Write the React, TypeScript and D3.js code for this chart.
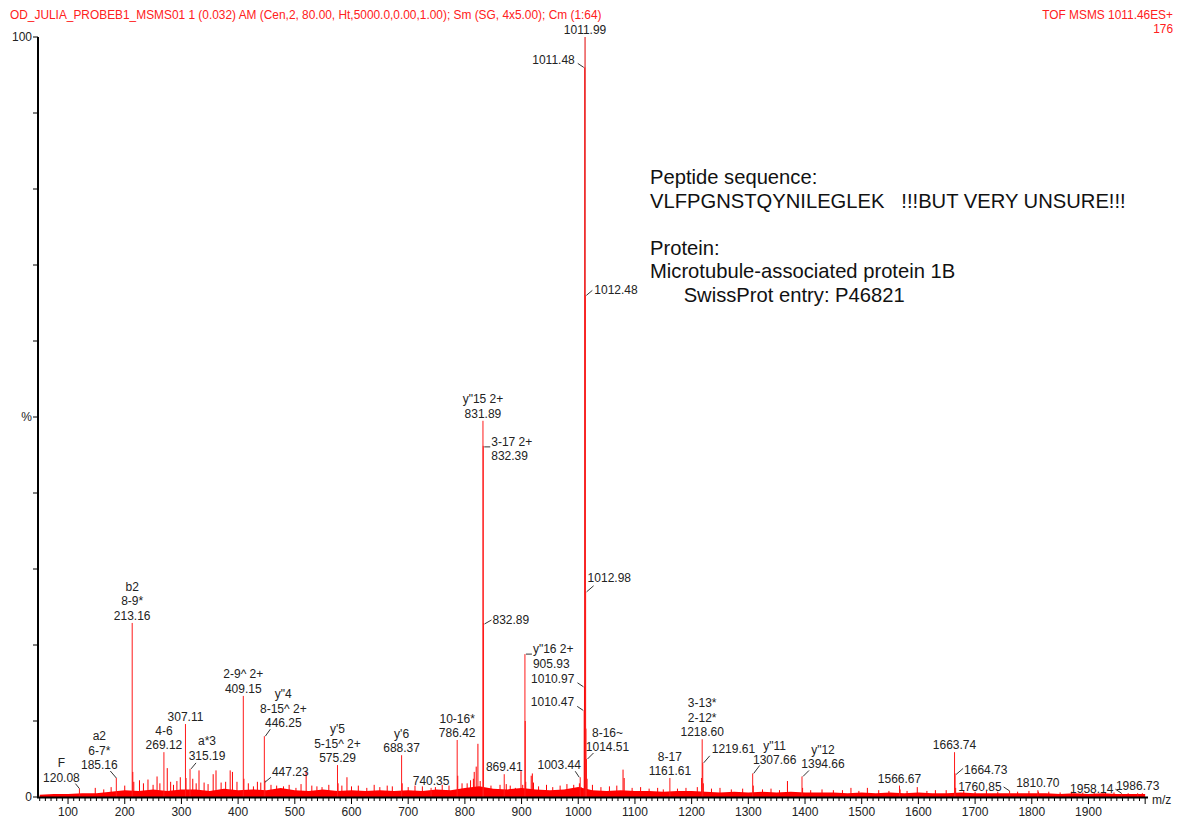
import React from 'react';
import * as d3 from 'd3';

// labelled peaks: m/z, relative intensity (%), label lines
const peakMz = [120.08, 185.16, 213.16, 269.12, 307.11, 315.19, 409.15, 446.25, 447.23, 575.29,
  688.37, 740.35, 786.42, 831.89, 832.39, 832.89, 869.41, 905.93, 1003.44, 1010.47,
  1010.97, 1011.48, 1011.99, 1012.48, 1012.98, 1014.51, 1161.61, 1218.60, 1219.61, 1307.66,
  1394.66, 1566.67, 1663.74, 1664.73, 1760.85, 1810.70, 1958.14, 1986.73];
const peakInt = [1.1, 2.5, 22.9, 5.9, 9.6, 3.7, 13.3, 8.0, 2.2, 4.2,
  5.5, 1.2, 7.5, 49.5, 46.2, 22.9, 3.0, 18.8, 2.6, 11.4,
  14.5, 96, 100, 66, 27, 5.0, 2.5, 7.6, 4.5, 3.1,
  2.7, 1.5, 5.9, 3.1, 0.8, 0.9, 0.5, 0.5];
const peakLabels = [
  ['F', '120.08'], ['a2', '6-7*', '185.16'], ['b2', '8-9*', '213.16'], ['4-6', '269.12'], ['307.11'],
  ['a*3', '315.19'], ['2-9^ 2+', '409.15'], ['y"4', '8-15^ 2+', '446.25'], ['447.23'], ["y'5", '5-15^ 2+', '575.29'],
  ["y'6", '688.37'], ['740.35'], ['10-16*', '786.42'], ['y"15 2+', '831.89'], ['3-17 2+', '832.39'],
  ['832.89'], ['869.41'], ['y"16 2+', '905.93'], ['1003.44'], ['1010.47'],
  ['1010.97'], ['1011.48'], ['1011.99'], ['1012.48'], ['1012.98'],
  ['8-16~', '1014.51'], ['8-17', '1161.61'], ['3-13*', '2-12*', '1218.60'], ['1219.61'], ['y"11', '1307.66'],
  ['y"12', '1394.66'], ['1566.67'], ['1663.74'], ['1664.73'], ['1760.85'],
  ['1810.70'], ['1958.14'], ['1986.73'],
];

// unlabelled minor peaks
const minorMz = [148, 163, 176, 200, 214.2, 216, 226, 233, 241, 250, 257, 262, 275, 281, 286, 292, 298, 308.1,
  320, 326, 331, 340, 347, 356, 361, 370, 378, 386, 390, 398, 410.2, 418, 427, 434, 440, 458, 468, 480,
  490, 502, 511, 520, 530, 539, 548, 560, 576.3, 583, 592, 600, 612, 627, 640, 650, 663, 672, 689.4,
  700, 712, 725, 748, 760, 772, 787.4, 795, 804, 810, 815, 816.5, 820, 823, 827, 837, 846, 856, 862,
  873, 880, 889, 899, 902, 906.43, 907.4, 917, 919, 921, 930, 944, 955, 968, 980, 992, 1002, 1005,
  1013.49, 1013.98, 1015.5, 1025, 1040, 1055, 1068, 1079, 1081, 1095, 1110, 1125, 1140, 1150, 1175,
  1190, 1210, 1217.6, 1220.6, 1235, 1250, 1270, 1290, 1308.7, 1325, 1340, 1355, 1369, 1395.7, 1410,
  1430, 1450, 1466, 1481, 1495, 1510, 1530, 1548, 1567.7, 1580, 1598, 1615, 1630, 1649, 1665.7, 1680,
  1700, 1720, 1740, 1775, 1795, 1811.7, 1830, 1850, 1870, 1890, 1910, 1930, 1945, 1970, 1995];
const minorInt = [1.2, 1.0, 1.3, 1.5, 3.3, 2.0, 2.2, 1.8, 2.3, 1.6, 2.7, 1.8, 3.8, 2.0, 1.6, 2.1, 2.6, 2.5,
  2.4, 1.8, 3.5, 1.9, 1.7, 3.0, 3.5, 1.9, 2.0, 3.5, 3.3, 2.0, 2.4, 1.8, 1.4, 2.0, 1.9, 1.6, 1.5, 1.4,
  1.6, 1.2, 1.7, 3.3, 1.5, 1.4, 1.3, 1.6, 1.8, 1.5, 2.6, 1.4, 1.5, 1.2, 1.6, 1.3, 1.5, 1.4, 1.8,
  1.3, 1.5, 1.4, 1.3, 1.6, 1.5, 2.8, 1.8, 1.8, 2.2, 2.4, 3.3, 4.0, 7.0, 2.1, 1.0, 1.5, 1.0, 1.6,
  1.7, 1.5, 1.2, 3.4, 1.6, 10, 2.0, 2.8, 3.1, 1.9, 1.4, 1.6, 1.3, 1.5, 1.7, 1.6, 1.8, 1.3,
  9, 4, 2.4, 1.6, 1.3, 1.4, 1.5, 3.6, 2.5, 1.2, 1.3, 1.1, 1.2, 1.0, 1.1,
  1.2, 1.3, 2.5, 1.8, 1.1, 1.2, 1.0, 1.1, 1.5, 1.0, 1.1, 0.9, 2.1, 1.2, 0.9,
  1.0, 0.9, 0.9, 1.2, 0.8, 1.2, 0.9, 0.8, 1.0, 0.8, 1.3, 0.8, 0.9, 0.9, 1.2, 0.8,
  0.7, 0.8, 0.7, 0.7, 0.8, 0.7, 0.7, 0.6, 0.7, 0.6, 0.6, 0.6, 0.6, 0.5, 0.5];

// baseline noise envelope, every 25 m/z from 50 to 2000
const noiseStart = 50;
const noiseStep = 25;
const noiseLevel = [0.3, 0.4, 0.4, 0.5, 0.5,
  0.7, 0.9, 0.8, 1.0, 0.8, 1.0,
  1.0, 0.8, 1.1, 0.9, 1.0, 0.9, 1.2, 0.9,
  0.8, 1.0, 0.8, 0.9, 0.8, 0.9, 0.8, 0.9,
  0.8, 1.0, 0.9, 1.2,
  1.4, 1.1, 1.0, 1.2, 1.0, 0.9, 1.0, 1.3,
  0.9, 0.8, 0.9, 0.8, 0.8, 0.7, 0.8, 0.8,
  0.7, 0.6, 0.7, 0.6, 0.7, 0.6, 0.7, 0.6,
  0.6, 0.6, 0.5, 0.6, 0.5, 0.6, 0.5, 0.6,
  0.5, 0.5, 0.6, 0.5, 0.5, 0.5, 0.5, 0.5,
  0.5, 0.4, 0.5, 0.4, 0.5, 0.4, 0.4, 0.4];

const xTicks = d3.range(100, 2000, 100);
const yTicks = d3.range(0, 101, 10);

const headerLeft = 'OD_JULIA_PROBEB1_MSMS01 1 (0.032) AM (Cen,2, 80.00, Ht,5000.0,0.00,1.00); Sm (SG, 4x5.00); Cm (1:64)';
const headerRight = ['TOF MSMS 1011.46ES+', '176'];
const noteLines = ['Peptide sequence:', 'VLFPGNSTQYNILEGLEK   !!!BUT VERY UNSURE!!!', '', 'Protein:', 'Microtubule-associated protein 1B', '      SwissProt entry: P46821'];

type Placement = { anchor: 'start' | 'middle' | 'end'; tx: number; ty: number; leader?: [number, number, number, number]; down?: boolean };

// label placement relative to peak top (pixels)
const placement: Record<string, Placement> = {
  '120.08': { anchor: 'middle', tx: -18, ty: -7, leader: [0, 0, -4, -5] },
  '185.16': { anchor: 'middle', tx: -17, ty: -9, leader: [0, 0, -6, -7] },
  '315.19': { anchor: 'middle', tx: 17, ty: -9, leader: [1, 0, 6, -6] },
  '446.25': { anchor: 'middle', tx: 19, ty: -9, leader: [1, 0, 6, -7] },
  '447.23': { anchor: 'start', tx: 7, ty: -4, leader: [0, 2, 6, -3] },
  '832.39': { anchor: 'start', tx: 8, ty: 0, leader: [1, 1, 7, 1], down: true },
  '832.89': { anchor: 'start', tx: 9, ty: 1, leader: [1, 1, 8, -3] },
  '905.93': { anchor: 'start', tx: 8, ty: -1, leader: [1, 0, 7, 0], down: true },
  '1003.44': { anchor: 'middle', tx: -21, ty: -8, leader: [-1, 0, -5, -6] },
  '1010.47': { anchor: 'end', tx: -10, ty: -4, leader: [-1, 0, -7, -4] },
  '1010.97': { anchor: 'end', tx: -10, ty: -4, leader: [-1, 0, -7, -4] },
  '1011.48': { anchor: 'end', tx: -10, ty: -3, leader: [-1, 0, -7, -4] },
  '1012.48': { anchor: 'start', tx: 9, ty: -1, leader: [1, 0, 7, -5] },
  '1012.98': { anchor: 'start', tx: 2, ty: -10, leader: [1, 0, 8, -6] },
  '1014.51': { anchor: 'middle', tx: 21, ty: -8, leader: [1, 0, 7, -6] },
  '1219.61': { anchor: 'start', tx: 9, ty: -10, leader: [1, 0, 7, -7] },
  '1307.66': { anchor: 'middle', tx: 22, ty: -9, leader: [1, 0, 7, -8] },
  '1394.66': { anchor: 'middle', tx: 21, ty: -8, leader: [1, 0, 7, -6] },
  '1664.73': { anchor: 'start', tx: 9, ty: 1, leader: [1, 1, 8, -5] },
  '1760.85': { anchor: 'end', tx: -8, ty: 0, leader: [0, 0, -6, -4] },
  '1958.14': { anchor: 'end', tx: -8, ty: 0, leader: [0, 0, -6, -4] },
};

const FONT = '"Liberation Sans", Arial, sans-serif';

export default function App() {
  const width = 1183;
  const height = 820;
  const x = d3.scaleLinear().domain([47, 2005]).range([38, 1148]);
  const y = d3.scaleLinear().domain([0, 100]).range([797, 37]);
  const minorX = d3.range(50, 2001, 10);
  const lineH = 14.5;

  const noiseArea = d3.area<number>()
    .x((_d, i) => x(noiseStart + i * noiseStep))
    .y0(y(0))
    .y1(d => y(d))(noiseLevel);

  return (
    <svg width={width} height={height} style={{ position: 'absolute', left: 0, top: 0, background: '#fff' }}
      fontFamily={FONT}>
      <text x={10} y={19} fontSize={11.9} fill="#ff2020">{headerLeft}</text>
      {headerRight.map((t, i) => (
        <text key={i} x={1173} y={19 + i * 14} fontSize={11.9} fill="#ff2020" textAnchor="end">{t}</text>
      ))}

      {/* noise floor */}
      <path d={noiseArea ?? ''} fill="#ff0000" />
      {minorMz.map((m, i) => (
        <line key={'m' + i} x1={x(m)} x2={x(m)} y1={y(0)} y2={y(minorInt[i])} stroke="#ff0000" strokeWidth={1} />
      ))}
      {peakMz.map((m, i) => (
        <line key={'p' + i} x1={x(m)} x2={x(m)} y1={y(0)} y2={y(peakInt[i])}
          stroke={m === 1011.99 ? '#e00000' : '#ff1a1a'} strokeWidth={1} />
      ))}

      {/* peak labels */}
      {peakMz.map((m, i) => {
        const key = m.toFixed(2);
        const px = x(m);
        const py = y(peakInt[i]);
        const p = placement[key] ?? { anchor: 'middle', tx: 0, ty: -3 };
        const lines = peakLabels[i];
        return (
          <g key={'l' + i} fontSize={12} fill="#222">
            {p.leader && (
              <line x1={px + p.leader[0]} y1={py + p.leader[1]} x2={px + p.leader[2]} y2={py + p.leader[3]}
                stroke="#333" strokeWidth={1} />
            )}
            {lines.map((t, j) => {
              const off = p.down ? j * lineH : -(lines.length - 1 - j) * lineH;
              return (
                <text key={j} x={px + p.tx} y={py + p.ty + off} textAnchor={p.anchor}>{t}</text>
              );
            })}
          </g>
        );
      })}

      {/* axes */}
      <line x1={38} x2={38} y1={y(100)} y2={y(0) + 1} stroke="#000" strokeWidth={2} />
      <line x1={37} x2={x(2005)} y1={y(0) + 0.5} y2={y(0) + 0.5} stroke="#000" strokeWidth={2} />
      {yTicks.map(t => (
        <line key={'yt' + t} x1={33} x2={38} y1={y(t)} y2={y(t)} stroke="#000" strokeWidth={1} />
      ))}
      <g fontSize={12} fill="#222" textAnchor="end">
        <text x={32} y={y(100) + 4}>100</text>
        <text x={32} y={y(50) + 4}>%</text>
        <text x={32} y={y(0) + 4}>0</text>
      </g>
      {minorX.map(t => (
        <line key={'xm' + t} x1={x(t)} x2={x(t)} y1={y(0) + 1} y2={y(0) + (t % 100 === 0 ? 7 : 4)}
          stroke="#000" strokeWidth={1} />
      ))}
      {xTicks.map(t => (
        <text key={'xl' + t} x={x(t)} y={816} fontSize={12} fill="#222" textAnchor="middle">{t}</text>
      ))}
      <text x={1152} y={804} fontSize={12} fill="#222">m/z</text>

      {/* annotation */}
      {noteLines.map((t, i) => (
        <text key={'n' + i} x={650} y={184 + i * 23.6} fontSize={20.2} fill="#111" style={{ whiteSpace: 'pre' }}>{t}</text>
      ))}
    </svg>
  );
}
